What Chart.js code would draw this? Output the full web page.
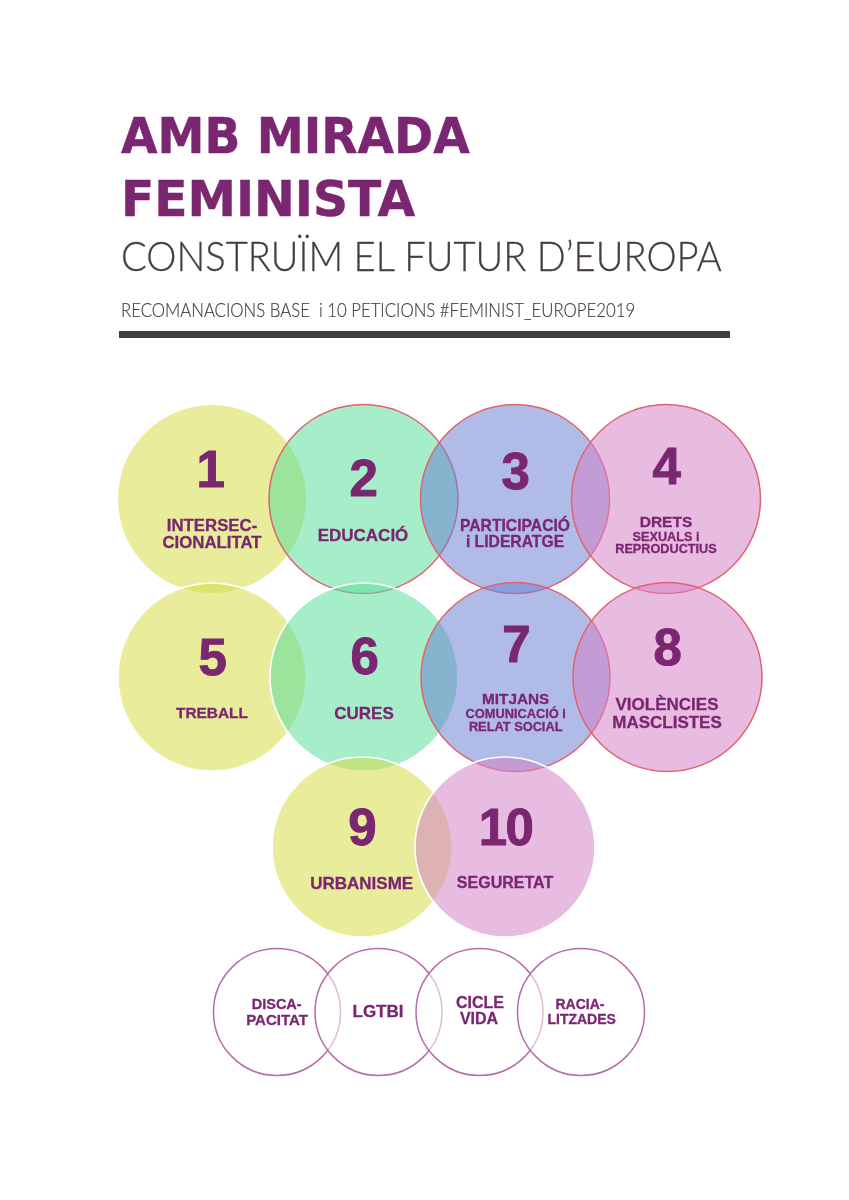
<!DOCTYPE html>
<html lang="ca">
<head>
<meta charset="utf-8">
<title>Amb mirada feminista</title>
<script src="https://cdn.jsdelivr.net/npm/chart.js@4/dist/chart.umd.min.js"></script>
<style>
  html, body { margin: 0; padding: 0; background: #fff; }
  #page { position: relative; width: 849px; height: 1200px; overflow: hidden; }
  #chart { position: absolute; left: 0; top: 0; }
  .head, .lbl { position: absolute; white-space: nowrap; line-height: 1; }
  .head { transform-origin: left center; }
  .t1 { left: 121px; font: 700 50px "DejaVu Sans", sans-serif; color: #7b2671; -webkit-text-stroke: 0.5px #7b2671; }
  .t2 { left: 121px; top: 230px; font: 300 41.5px Lato, sans-serif; color: #453c42; transform: scaleX(0.919); -webkit-text-stroke: 0.3px #453c42; }
  .t3 { left: 121px; top: 297px; font: 300 20px Lato, sans-serif; color: #453c42; transform: scaleX(0.838); -webkit-text-stroke: 0.2px #453c42; }
  #rule { position: absolute; left: 119px; top: 331px; width: 611px; height: 7px; background: #453c42; }
  .lbl { transform: translate(-50%, -50%); font-family: "Liberation Sans", Arial, sans-serif; font-weight: 700; color: #7b2671; -webkit-text-stroke: 0.3px #7b2671; }
  .num { letter-spacing: -1.5px; -webkit-text-stroke: 1px #7b2671; }
</style>
</head>
<body>
<div id="page">
  <canvas id="chart" width="849" height="1200"></canvas>
  <div class="head t1" style="top:107px; transform:scaleX(0.943)">AMB MIRADA</div>
  <div class="head t1" style="top:170px; transform:scaleX(0.974)">FEMINISTA</div>
  <div class="head t2">CONSTRUÏM EL FUTUR D’EUROPA</div>
  <div class="head t3">RECOMANACIONS BASE&nbsp; i 10 PETICIONS #FEMINIST_EUROPE2019</div>
  <div id="rule"></div>
</div>
<script>
// Cercles, en ordre de dibuix
const circleX = [212, 363.5, 515, 666, 212, 364, 515.5, 667.5, 362, 505, 277, 378.5, 479.5, 581];
const circleY = [499, 499, 499, 499, 677, 677, 677, 677, 847, 847, 1012, 1012, 1012, 1012];
const circleR = [94, 94.5, 94.5, 94.5, 94, 94, 94.5, 94.5, 90, 90, 63.5, 63.5, 63.5, 63.5];
const circleTheme = ['yellow', 'green', 'blue', 'pink', 'yellow', 'green', 'blue', 'pink', 'yellow', 'pink', 'veil', 'veil', 'veil', 'veil'];
const circleEdge = ['none', 'red', 'red', 'red', 'white', 'white', 'red', 'red', 'white', 'white', 'purple', 'purple', 'purple', 'purple'];

// Números
const numbers = ['1', '2', '3', '4', '5', '6', '7', '8', '9', '10'];
const numberX = [210, 363, 515, 666, 212, 364, 515.7, 667, 361.7, 505.5];
const numberY = [469, 477.7, 471, 465.7, 657, 656, 644, 647, 826.7, 827];

// Etiquetes: una línia per element
const lineTexts = ['INTERSEC-', 'CIONALITAT', 'EDUCACIÓ', 'PARTICIPACIÓ', 'i LIDERATGE', 'DRETS', 'SEXUALS i', 'REPRODUCTIUS',
  'TREBALL', 'CURES', 'MITJANS', 'COMUNICACIÓ i', 'RELAT SOCIAL', 'VIOLÈNCIES', 'MASCLISTES', 'URBANISME', 'SEGURETAT',
  'DISCA-', 'PACITAT', 'LGTBI', 'CICLE', 'VIDA', 'RACIA-', 'LITZADES'];
const lineX = [212, 212, 363, 515, 515, 666, 666, 666,
  212, 364, 515.7, 515.7, 515.7, 667, 667, 361.7, 505,
  276.7, 277, 378, 480, 479, 580, 581.7];
const lineY = [525.7, 543, 535, 526, 542, 521.7, 536.7, 549,
  713, 713, 699, 714, 727, 704, 721.7, 882.7, 883,
  1004, 1019, 1011, 1002.7, 1019, 1004, 1019];
const lineSize = [16.8, 16.8, 17, 15.7, 15.7, 15.5, 12.7, 12.7,
  15.4, 17, 15.3, 12.8, 12.8, 17, 17, 17, 16,
  14.5, 15, 17, 16, 16, 14, 14];

const fills = {
  yellow: 'rgba(213, 220, 73, 0.55)',
  green: 'rgba(93, 222, 157, 0.55)',
  blue: 'rgba(111, 131, 211, 0.55)',
  pink: 'rgba(213, 131, 199, 0.55)',
  veil: 'rgba(255, 255, 255, 0.55)'
};
const edges = {
  none: 'rgba(0, 0, 0, 0)',
  red: '#e0636f',
  white: '#ffffff',
  purple: '#b56fa8'
};

const chart = new Chart(document.getElementById('chart'), {
  type: 'bubble',
  data: {
    datasets: [{
      data: circleX.map((x, i) => ({ x: x, y: circleY[i], r: circleR[i] })),
      backgroundColor: circleTheme.map(t => fills[t]),
      borderColor: circleEdge.map(e => edges[e]),
      borderWidth: 1.5,
      hoverBorderWidth: 1.5,
      clip: false
    }]
  },
  options: {
    responsive: false,
    animation: false,
    events: [],
    layout: { padding: 0, autoPadding: false },
    plugins: { legend: { display: false }, tooltip: { enabled: false } },
    scales: {
      x: { type: 'linear', min: 0, max: 849, display: false },
      y: { type: 'linear', min: 0, max: 1200, reverse: true, display: false }
    }
  }
});

// Textos col·locats amb les escales del gràfic
function addLabel(text, x, y, size, extraClass) {
  const el = document.createElement('div');
  el.className = 'lbl' + (extraClass ? ' ' + extraClass : '');
  el.textContent = text;
  el.style.left = chart.scales.x.getPixelForValue(x) + 'px';
  el.style.top = chart.scales.y.getPixelForValue(y) + 'px';
  el.style.fontSize = size + 'px';
  document.getElementById('page').appendChild(el);
}
numbers.forEach((n, i) => addLabel(n, numberX[i], numberY[i], 51, 'num'));
lineTexts.forEach((t, i) => addLabel(t, lineX[i], lineY[i], lineSize[i]));
</script>
</body>
</html>
